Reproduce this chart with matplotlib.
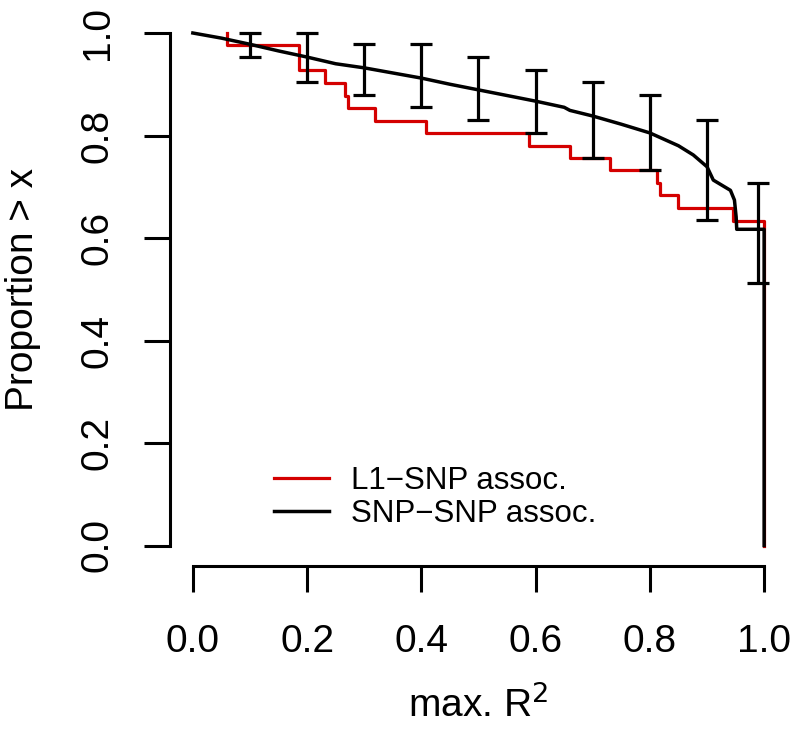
import matplotlib
matplotlib.use("Agg")
import matplotlib.pyplot as plt

plt.rcParams['font.family'] = ['Liberation Sans', 'DejaVu Sans']

# L1-SNP association: step (survival) curve, value after each step
red_x = [0.06, 0.06, 0.185, 0.232, 0.267, 0.272, 0.318, 0.408, 0.588, 0.66,
         0.731, 0.813, 0.818, 0.85, 0.946, 1.0, 1.0]
red_y = [1.0, 0.976, 0.927, 0.902, 0.878, 0.854, 0.829, 0.805, 0.780, 0.756,
         0.732, 0.707, 0.683, 0.659, 0.634, 0.634, 0.0]

# SNP-SNP association curve
black_x = [0.0, 0.05, 0.1, 0.15, 0.2, 0.25, 0.3, 0.35, 0.4, 0.45, 0.5, 0.55,
           0.6, 0.65, 0.66, 0.7, 0.75, 0.8, 0.85, 0.876, 0.9, 0.911, 0.941,
           0.948, 0.951, 0.952, 1.0, 1.0]
black_y = [1.0, 0.99, 0.978, 0.965, 0.953, 0.94, 0.932, 0.922, 0.912, 0.90,
           0.889, 0.878, 0.867, 0.855, 0.849, 0.838, 0.822, 0.805, 0.78, 0.762,
           0.739, 0.713, 0.693, 0.674, 0.641, 0.617, 0.617, 0.0]

# Error bars
err_x = [0.1, 0.2, 0.3, 0.4, 0.5, 0.6, 0.7, 0.8, 0.9, 0.99]
err_hi = [1.0, 1.0, 0.978, 0.978, 0.953, 0.928, 0.904, 0.879, 0.830, 0.708]
err_lo = [0.953, 0.904, 0.879, 0.855, 0.830, 0.805, 0.757, 0.732, 0.635, 0.512]

tick_vals = [0.0, 0.2, 0.4, 0.6, 0.8, 1.0]
tick_labels = ['0.0', '0.2', '0.4', '0.6', '0.8', '1.0']

fig = plt.figure(figsize=(7.97, 7.40), dpi=100)
ax = fig.add_axes([170/797, 1 - 566/740, (787 - 170)/797, (566 - 12.5)/740])

ax.plot(red_x, red_y, color='#d40000', lw=2.3, drawstyle='steps-post',
        label='L1\u2212SNP assoc.', zorder=2)
ax.plot(black_x, black_y, color='black', lw=2.5, label='SNP\u2212SNP assoc.',
        zorder=3)
for x, lo, hi in zip(err_x, err_lo, err_hi):
    ax.errorbar([x], [(lo + hi) / 2], yerr=[[(hi - lo) / 2], [(hi - lo) / 2]],
                fmt='none', ecolor='black', elinewidth=2.3, capsize=8,
                capthick=2.3, zorder=4)

ax.set_xlim(-0.04, 1.04)
ax.set_ylim(-0.04, 1.04)
ax.set_xticks(tick_vals)
ax.set_yticks(tick_vals)
ax.set_xticklabels(tick_labels)
ax.set_yticklabels(tick_labels, rotation=90, va='center')
ax.tick_params(axis='both', length=19, width=2.2, labelsize=28)
ax.tick_params(axis='x', pad=23)
ax.tick_params(axis='y', pad=20)
for s in ['top', 'right']:
    ax.spines[s].set_visible(False)
for s in ['left', 'bottom']:
    ax.spines[s].set_linewidth(2.2)
    ax.spines[s].set_bounds(0, 1)

ax.set_xlabel('max. R$^2$', fontsize=28, labelpad=18)
ax.set_ylabel('Proportion > x', fontsize=28, labelpad=28)

ax.legend(loc='lower left', bbox_to_anchor=(0.1235, 0.016), frameon=False,
          fontsize=22.5, handlelength=1.75, handletextpad=0.7, labelspacing=0.09)

fig.savefig('out.png', dpi=100)
